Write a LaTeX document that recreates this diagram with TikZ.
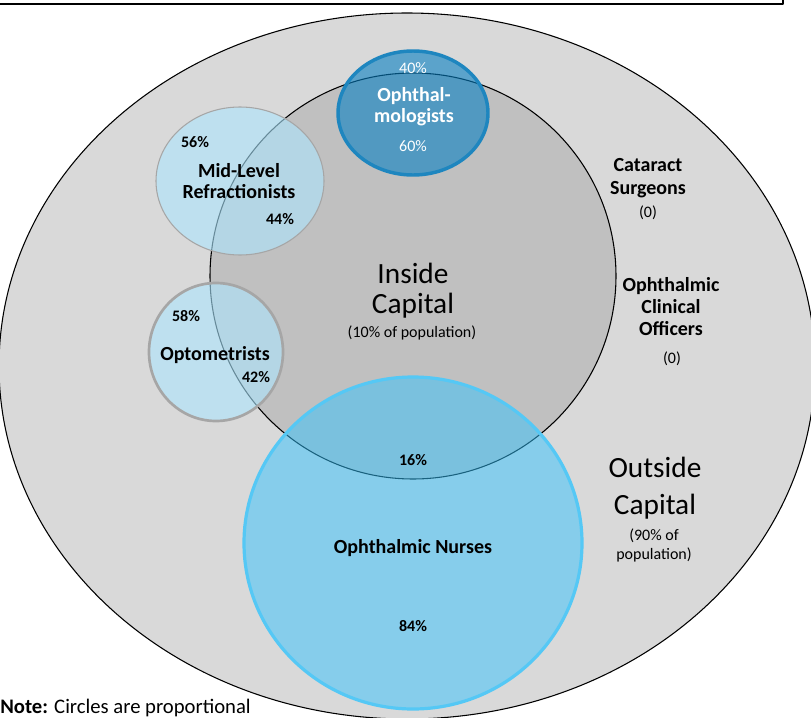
\documentclass[tikz,border=0pt]{standalone}
\usepackage{fontspec}
\setmainfont{Carlito}
\usepackage{tikz}
\definecolor{outergray}{HTML}{D9D9D9}
\definecolor{innergray}{HTML}{C0C0C0}
\definecolor{ophtfill}{HTML}{077FC2}
\definecolor{ophtline}{HTML}{1E86BF}
\definecolor{reffill}{HTML}{ACE6FF}
\definecolor{refline}{HTML}{A6A6A6}
\definecolor{nursefill}{HTML}{35C3FD}
\definecolor{nurseline}{HTML}{55C8F5}

\begin{document}
\begin{tikzpicture}[line cap=round,line join=round,x=0.75pt,y=-0.75pt,
	lbl/.style={align=center,inner sep=0pt,font=\fontsize{15}{15.75}\selectfont\bfseries},
	pct/.style={inner sep=0pt,font=\fontsize{12}{14}\selectfont\bfseries},
	sub/.style={align=center,inner sep=0pt,font=\fontsize{12}{14.25}\selectfont},
	big/.style={align=center,inner sep=0pt,font=\fontsize{22}{22.5}\selectfont}]
	\useasboundingbox (0,0) rectangle (811,718);
	\draw [fill=outergray,line width=0.8pt] (407,366) ellipse (408 and 353);
	\draw [line width=1.8pt] (-10,4) -- (783,4) -- (783,-10);
	\draw [fill=innergray,line width=0.8pt] (413,276) circle (203);
	\draw [fill=ophtfill,fill opacity=0.6,draw=ophtline,line width=2.6pt] (413,113) ellipse (75 and 62);
	\draw [fill=reffill,fill opacity=0.6,draw=refline,line width=0.8pt] (240,181) ellipse (84 and 74);
	\draw [fill=reffill,fill opacity=0.6,draw=refline,line width=2pt] (216,352) ellipse (67 and 69);
	\draw [fill=nursefill,fill opacity=0.5,draw=nurseline,line width=2.4pt] (413,543) ellipse (169 and 166);
	\node[sub,text=white] (o40) at (413,68) {40\%};
	\node[lbl,text=white] (ophth) at (414,107) {Ophthal-\\mologists};
	\node[sub,text=white] (o60) at (413,146) {60\%};
	\node[pct] (m56) at (195,142) {56\%};
	\node[lbl] (midref) at (239,181) {Mid-Level\\Refractionists};
	\node[pct] (m44) at (280,219) {44\%};
	\node[pct] (t58) at (186,316) {58\%};
	\node[lbl] (opto) at (215,355) {Optometrists};
	\node[pct] (t42) at (256,377) {42\%};
	\node[pct] (n16) at (413,460) {16\%};
	\node[lbl] (nurses) at (413,548) {Ophthalmic Nurses};
	\node[pct] (n84) at (413,626) {84\%};
	\node[lbl,font=\fontsize{15}{17.25}\selectfont\bfseries] (cataract) at (648,178.5) {Cataract\\Surgeons};
	\node[sub] (cs0) at (648,213) {(0)};
	\node[lbl,font=\fontsize{15}{16.5}\selectfont\bfseries] (clinical) at (671,307) {Ophthalmic\\Clinical\\Officers};
	\node[sub] (co0) at (672,359) {(0)};
	\node[big] (inside) at (413,291) {Inside\\Capital};
	\node[sub] (pop10) at (412,333) {(10\% of population)};
	\node[big,font=\fontsize{22}{27.75}\selectfont] (outside) at (655,488) {Outside\\Capital};
	\node[sub] (pop90) at (654,545) {(90\% of\\population)};
	\node[anchor=base west,inner sep=0pt,font=\fontsize{15.5}{17}\selectfont] (note) at (0,713) {\textbf{Note:} Circles are proportional};
\end{tikzpicture}
\end{document}
